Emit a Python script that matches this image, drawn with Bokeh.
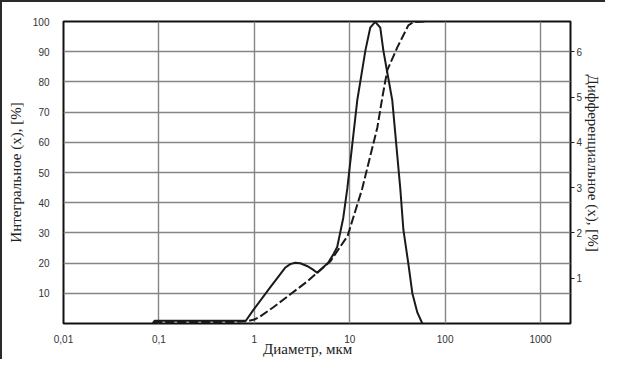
from bokeh.plotting import figure
from bokeh.models import FixedTicker, LinearAxis, Range1d
from bokeh.embed import file_html
from bokeh.resources import INLINE

# ---- data ----
x_ticks = [0.01, 0.1, 1, 10, 100, 1000]
x_tick_labels = ["0,01", "0,1", "1", "10", "100", "1000"]
left_ticks = [10, 20, 30, 40, 50, 60, 70, 80, 90, 100]
right_ticks = [1, 2, 3, 4, 5, 6]

# integral (cumulative) distribution, % (left axis)
int_d = [0.088, 0.09, 0.3, 0.6, 0.84, 1.0, 1.15, 1.57, 2.37, 3.58, 4.56, 6.24,
         9.5, 13.5, 19.5, 22.0, 24.8, 31.6, 41.1, 46.6, 62.0]
int_v = [0.2, 0.5, 0.5, 0.5, 0.8, 1.3, 2.3, 5.3, 9.6, 13.9, 16.8, 20.5,
         29.0, 44.6, 65.0, 75.0, 84.0, 91.5, 98.7, 99.8, 100.0]

# differential distribution, % (right axis)
diff_d = [0.087, 0.09, 0.3, 0.6, 0.818, 0.97, 1.46, 2.10, 2.38, 2.68, 3.03, 3.56,
          4.05, 4.56, 5.94, 6.71, 7.39, 8.55, 9.42, 12.0, 14.6, 16.4, 18.5, 20.9,
          22.5, 24.8, 27.9, 33.9, 36.5, 41.1, 45.3, 51.2, 57.7]
diff_v = [0.013, 0.06, 0.06, 0.06, 0.067, 0.29, 0.79, 1.23, 1.31, 1.34, 1.33, 1.27,
          1.20, 1.12, 1.34, 1.52, 1.69, 2.33, 2.97, 4.93, 6.03, 6.53, 6.66, 6.53,
          6.03, 5.53, 4.93, 2.97, 2.07, 1.33, 0.67, 0.24, 0.0]

NB = "\u00a0"
x_title = "Диаметр, мкм" + NB * 5
left_title = "Интегральное (x), [%]"
right_title = "Дифференциальное (x), [%]" + NB * 5

# ---- figure ----
p = figure(width=605, height=359, x_axis_type="log",
           x_range=Range1d(0.01, 2060), y_range=Range1d(0, 100),
           output_backend="svg", toolbar_location=None,
           min_border_left=63, min_border_right=35,
           min_border_top=21, min_border_bottom=35,
           styles={"box-shadow": "inset 2px 2px 0 #2a2a2a"})
p.extra_y_ranges = {"diff": Range1d(0, 20 / 3)}

p.background_fill_color = "white"
p.border_fill_color = "white"
p.border_fill_alpha = 0
p.outline_line_color = "#111111"
p.outline_line_width = 2

tick_font = "Liberation Sans"
title_font = "Liberation Serif"


def style_axis(ax, title, label_standoff, title_standoff):
    ax.axis_label = title
    ax.axis_line_color = None
    ax.minor_tick_line_color = None
    ax.major_label_standoff = label_standoff
    ax.axis_label_standoff = title_standoff
    ax.major_label_text_font = tick_font
    ax.major_label_text_font_size = "10px"
    ax.major_label_text_color = "#333333"
    ax.axis_label_text_font = title_font
    ax.axis_label_text_font_size = "15px"
    ax.axis_label_text_font_style = "normal"
    ax.axis_label_text_color = "#222222"


# x axis
xa = p.xaxis[0]
xa.ticker = FixedTicker(ticks=x_ticks)
xa.major_label_overrides = {t: l for t, l in zip(x_ticks, x_tick_labels)}
xa.major_tick_line_color = None
style_axis(xa, x_title, 5, -5)

# left y axis
ya = p.yaxis[0]
ya.ticker = FixedTicker(ticks=left_ticks)
ya.major_tick_line_color = None
style_axis(ya, left_title, 8, 6)

# right y axis
ra = LinearAxis(y_range_name="diff", ticker=FixedTicker(ticks=right_ticks))
ra.major_tick_line_color = "#222222"
ra.major_tick_out = 4
ra.major_tick_in = 0
style_axis(ra, right_title, 2, 0)
p.add_layout(ra, "right")

# grids
p.xgrid.ticker = FixedTicker(ticks=x_ticks[1:])
p.ygrid.ticker = FixedTicker(ticks=left_ticks)
for g in (p.xgrid[0], p.ygrid[0]):
    g.grid_line_color = "#858585"
    g.grid_line_width = 1.4
    g.minor_grid_line_color = None

# curves
p.line(int_d, int_v, line_color="#1a1a1a", line_width=2, line_dash="9 3",
       line_join="round")
p.line(diff_d, diff_v, y_range_name="diff", line_color="#1a1a1a", line_width=2,
       line_join="round", line_cap="round")

open("out.html", "w").write(file_html(p, INLINE))
